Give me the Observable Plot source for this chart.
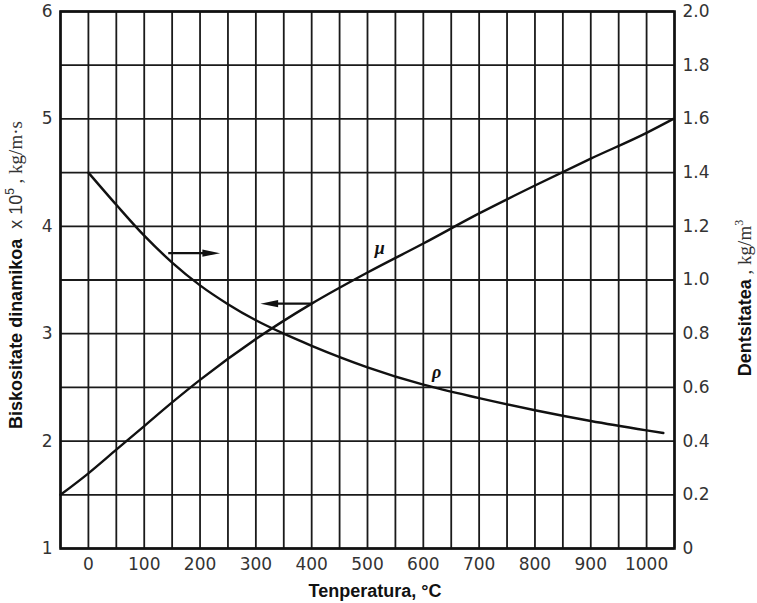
<!DOCTYPE html>
<html>
<head>
<meta charset="utf-8">
<script src="https://cdn.jsdelivr.net/npm/d3@7"></script>
<script src="https://cdn.jsdelivr.net/npm/@observablehq/plot@0.6"></script>
<style>
  html, body { margin: 0; padding: 0; background: #fff; }
</style>
</head>
<body>
<div id="chart"></div>
<script>
// Viscosity μ (left axis, ×10^5 kg/m·s)
const muTemps = [-50, 0, 50, 100, 150, 200, 300, 400, 500, 600, 700, 800, 900, 1000, 1048];
const muValues = [1.50, 1.70, 1.92, 2.14, 2.36, 2.57, 2.95, 3.28, 3.57, 3.84, 4.12, 4.38, 4.63, 4.87, 5.00];

// Density ρ (right axis, kg/m³)
const rhoTemps = [0, 50, 100, 150, 200, 250, 300, 350, 400, 500, 600, 700, 800, 900, 1000, 1030];
const rhoValues = [1.40, 1.28, 1.165, 1.065, 0.98, 0.91, 0.85, 0.80, 0.755, 0.675, 0.61, 0.56, 0.515, 0.475, 0.44, 0.43];

// Axis ticks
const xTicks = [0, 100, 200, 300, 400, 500, 600, 700, 800, 900, 1000];
const xGrid = d3.range(-50, 1051, 50);
const yTicks = [1, 2, 3, 4, 5, 6];
const yGrid = d3.range(1, 6.01, 0.5);
const rightTickLabels = ["0", "0.2", "0.4", "0.6", "0.8", "1.0", "1.2", "1.4", "1.6", "1.8", "2.0"];

// Annotations (data units, left-axis scale)
const arrowTailX = [143, 401];
const arrowHeadX = [220, 324];
const arrowY = [3.75, 3.28];
const arrowRotate = [0, 180];
const curveLabels = ["μ", "ρ"];
const curveLabelX = [522, 624];
const curveLabelY = [3.80, 2.64];

// map density onto the left scale (left 1..6 ↔ right 0..2)
const rhoToLeft = r => 1 + r * 2.5;

const muData = muTemps.map((t, i) => ({t, v: muValues[i]}));
const rhoData = rhoTemps.map((t, i) => ({t, v: rhoToLeft(rhoValues[i])}));
const arrows = arrowTailX.map((x1, i) => ({x1, x2: arrowHeadX[i], y: arrowY[i], rot: arrowRotate[i]}));
const labels = curveLabels.map((s, i) => ({s, x: curveLabelX[i], y: curveLabelY[i]}));

const narrowTriangle = {
  draw(ctx, size) {
    const s = Math.sqrt(size);
    ctx.moveTo(s, 0);
    ctx.lineTo(-s, -s * 0.42);
    ctx.lineTo(-s, s * 0.42);
    ctx.closePath();
  }
};

const gridStyle = {stroke: "#1a1a1a", strokeOpacity: 1, strokeWidth: 1.8};

const svg = Plot.plot({
  width: 757,
  height: 603,
  marginLeft: 60,
  marginRight: 83,
  marginTop: 11,
  marginBottom: 55,
  x: {domain: [-50, 1050]},
  y: {domain: [1, 6]},
  style: {fontFamily: "DejaVu Sans", fontSize: "17px", color: "#333", background: "#fff"},
  marks: [
    Plot.gridX(xGrid, gridStyle),
    Plot.gridY(yGrid, gridStyle),
    Plot.axisX(xTicks, {tickSize: 0, tickPadding: 9, label: null, tickFormat: d => String(d)}),
    Plot.axisY(yTicks, {anchor: "left", tickSize: 0, tickPadding: 8, label: null, tickFormat: d => String(d)}),
    Plot.axisY(yGrid, {anchor: "right", tickSize: 0, tickPadding: 8, label: null,
      tickFormat: (d) => rightTickLabels[Math.round((d - 1) * 2)]}),
    Plot.frame({stroke: "#111", strokeWidth: 2.6}),
    Plot.line(muData, {x: "t", y: "v", curve: "monotone-x", stroke: "#111", strokeWidth: 2.4}),
    Plot.line(rhoData, {x: "t", y: "v", curve: "monotone-x", stroke: "#111", strokeWidth: 2.4}),
    Plot.link(arrows, {x1: "x1", x2: "x2", y1: "y", y2: "y", stroke: "#111", strokeWidth: 2.2}),
    Plot.dot(arrows, {x: "x2", y: "y", symbol: narrowTriangle, r: 5, rotate: "rot", fill: "#111", stroke: "none"}),
    Plot.text(labels, {x: "x", y: "y", text: "s", fontFamily: "Liberation Serif", fontStyle: "italic",
      fontWeight: "bold", fontSize: 18, fill: "#111"})
  ]
});

const s = d3.select(svg);
// X title
s.append("text")
  .attr("x", 375).attr("y", 597)
  .attr("text-anchor", "middle")
  .attr("font-family", "Liberation Sans").attr("font-weight", "bold")
  .attr("font-size", 18).attr("fill", "#111")
  .text("Tenperatura, °C");

// Left title
const lt = s.append("text")
  .attr("transform", "translate(22,275) rotate(-90)")
  .attr("text-anchor", "middle")
  .attr("font-family", "Liberation Sans").attr("font-size", 18).attr("fill", "#111");
lt.append("tspan").attr("font-weight", "bold").text("Biskositate dinamikoa");
lt.append("tspan").attr("font-size", 18).attr("fill", "#333").text("  x 10");
lt.append("tspan").attr("font-size", 12).attr("dy", -8).attr("fill", "#333").text("5");
lt.append("tspan").attr("font-size", 19).attr("dy", 8).attr("fill", "#333")
  .attr("font-family", "Liberation Serif").text(" , kg/m·s");

// Right title
const rt = s.append("text")
  .attr("transform", "translate(751,298) rotate(-90)")
  .attr("text-anchor", "middle")
  .attr("font-family", "Liberation Sans").attr("font-size", 18).attr("fill", "#111");
rt.append("tspan").attr("font-weight", "bold").text("Dentsitatea");
rt.append("tspan").attr("font-size", 19).attr("fill", "#333")
  .attr("font-family", "Liberation Serif").text(" , kg/m");
rt.append("tspan").attr("font-size", 12).attr("dy", -8).attr("fill", "#333")
  .attr("font-family", "Liberation Serif").text("3");

document.getElementById("chart").appendChild(svg);
</script>
</body>
</html>
